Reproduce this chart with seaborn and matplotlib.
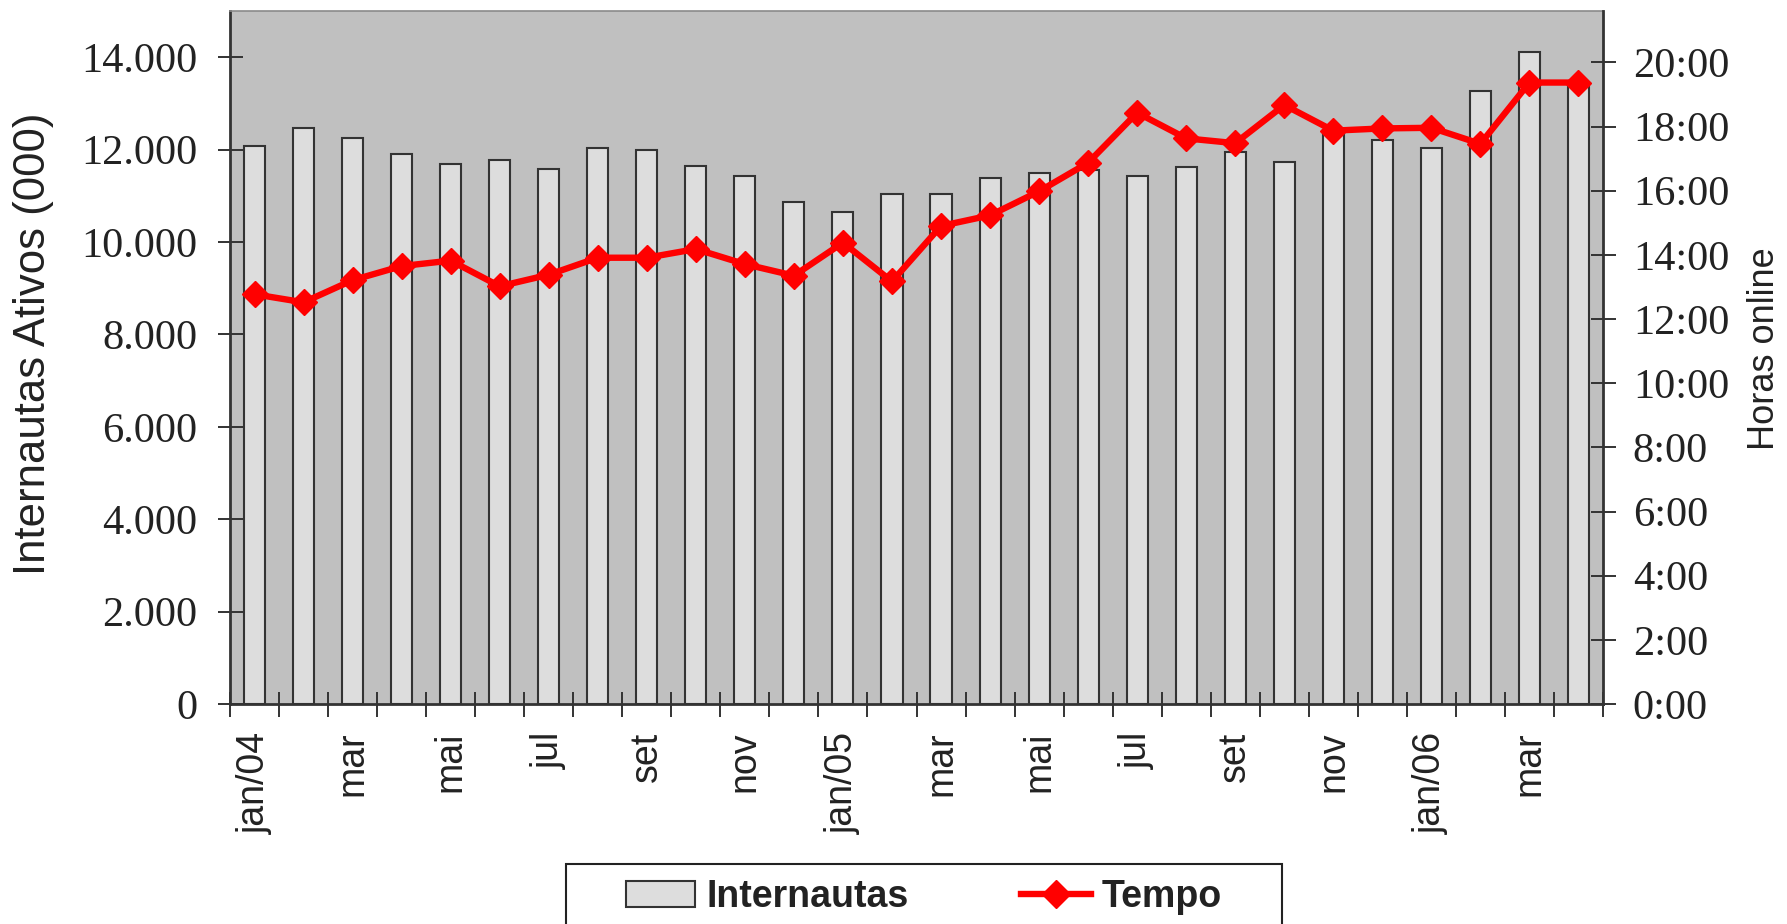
import numpy as np
import pandas as pd
import matplotlib
matplotlib.use("Agg")
import matplotlib.pyplot as plt
from matplotlib import font_manager as fm
from matplotlib.patches import Patch, Rectangle
from matplotlib.lines import Line2D
from matplotlib.ticker import FuncFormatter, MultipleLocator
import seaborn as sns

# ---------------- data ----------------
months = ["jan/04", "fev/04", "mar/04", "abr/04", "mai/04", "jun/04", "jul/04",
          "ago/04", "set/04", "out/04", "nov/04", "dez/04",
          "jan/05", "fev/05", "mar/05", "abr/05", "mai/05", "jun/05", "jul/05",
          "ago/05", "set/05", "out/05", "nov/05", "dez/05",
          "jan/06", "fev/06", "mar/06", "abr/06"]
tick_labels = ["jan/04", "mar", "mai", "jul", "set", "nov",
               "jan/05", "mar", "mai", "jul", "set", "nov",
               "jan/06", "mar"]
internautas = [12080, 12470, 12260, 11900, 11690, 11770, 11590, 12040, 12000,
               11640, 11430, 10870, 10650, 11040, 11040, 11380, 11500, 11550,
               11420, 11630, 11950, 11730, 12420, 12210, 12040, 13260, 14120,
               13400]
tempo_horas = [12.77, 12.52, 13.21, 13.65, 13.82, 13.02, 13.38, 13.91, 13.91,
               14.18, 13.71, 13.35, 14.38, 13.17, 14.90, 15.23, 15.98, 16.87,
               18.43, 17.63, 17.48, 18.67, 17.87, 17.94, 17.96, 17.46, 19.37,
               19.37]

df = pd.DataFrame({"idx": np.arange(len(months)), "mes": months,
                   "internautas": internautas, "tempo": tempo_horas})

# ---------------- fonts ----------------
names = {f.name for f in fm.fontManager.ttflist}
SANS = "Liberation Sans" if "Liberation Sans" in names else "DejaVu Sans"
SERIF = "Liberation Serif" if "Liberation Serif" in names else "DejaVu Serif"
if "Liberation Sans Narrow" in names:
    NARROW, narrow_size = "Liberation Sans Narrow", 32
elif "DejaVu Sans Condensed" in names:
    NARROW, narrow_size = "DejaVu Sans Condensed", 27
else:
    NARROW, narrow_size = SANS, 26

TXT = "#222222"
DARK = "#333333"

fig = plt.figure(figsize=(17.87, 9.24), dpi=100)
ax = fig.add_axes([230 / 1787, 1 - 704 / 924, (1603 - 230) / 1787, (704 - 11) / 924])
ax.set_facecolor("#C0C0C0")

sns.barplot(data=df, x="idx", y="internautas", ax=ax, color="#DDDDDD",
            edgecolor=DARK, linewidth=1.5, width=0.43, saturation=1)
for p in ax.patches:
    p.set_facecolor("#DDDDDD")

ax.set_xlim(-0.5, len(months) - 0.5)
ax.set_ylim(0, 15000)
ax.yaxis.set_major_locator(MultipleLocator(2000))
ax.yaxis.set_major_formatter(FuncFormatter(lambda v, p: f"{int(v):,}".replace(",", ".")))

# x ticks: marks at category boundaries, labels every second month
ax.set_xticks(np.arange(-0.5, len(months), 1.0))
ax.set_xticklabels([])
ax.set_xticks(np.arange(0, len(months), 2), minor=True)
ax.set_xticklabels(tick_labels, minor=True, rotation=90, family=SANS,
                   fontsize=27, color=TXT)
ax.tick_params(axis="x", which="major", direction="inout", length=18, width=1.4,
               color=DARK)
ax.tick_params(axis="x", which="minor", length=0, pad=20)
ax.tick_params(axis="y", direction="inout", length=18, width=1.4, color=DARK,
               pad=14.5, labelsize=30.5, labelcolor=TXT)
for lab in ax.get_yticklabels():
    lab.set_family(SERIF)

ax.set_xlabel("")
ax.set_ylabel("Internautas Ativos (000)", family=SANS, fontsize=31.5, color=TXT,
              va="center")
ax.yaxis.set_label_coords((33 - 230) / 1373, (704 - 344) / 693)

for s in ["left", "bottom"]:
    ax.spines[s].set_color(DARK)
    ax.spines[s].set_linewidth(2)
ax.spines["top"].set_color("#8a8a8a")
ax.spines["top"].set_linewidth(1.2)
ax.spines["right"].set_visible(False)

# ---------------- line on secondary axis ----------------
ax2 = ax.twinx()
sns.lineplot(data=df, x="idx", y="tempo", ax=ax2, color="#FF0000", linewidth=4.6,
             marker="D", markersize=13.5, markeredgecolor="#FF0000",
             markeredgewidth=1, zorder=5)
ax2.set_xlim(-0.5, len(months) - 0.5)
ax2.set_ylim(0, 21.6)
ax2.yaxis.set_major_locator(MultipleLocator(2))
ax2.yaxis.set_major_formatter(FuncFormatter(lambda v, p: f"{int(round(v))}:00"))
ax2.tick_params(axis="y", direction="inout", length=18, width=1.4, color=DARK,
                pad=12.5, labelsize=30.5, labelcolor=TXT)
for lab in ax2.get_yticklabels():
    lab.set_family(SERIF)
ax2.set_xlabel("")
ax2.set_ylabel("Horas online", family=NARROW, fontsize=narrow_size, color=TXT,
               va="center", rotation=90)
ax2.yaxis.set_label_coords((1764 - 230) / 1373, (704 - 349) / 693)
for s in ["left", "bottom", "top"]:
    ax2.spines[s].set_visible(False)
ax2.spines["right"].set_color(DARK)
ax2.spines["right"].set_linewidth(2)

# ---------------- legend ----------------
fig.add_artist(Rectangle((566 / 1787, -0.05), 716 / 1787, 0.05 + 1 - 864 / 924,
                         transform=fig.transFigure, facecolor="white",
                         edgecolor="#222222", linewidth=1.5, zorder=1))
handles = [Patch(facecolor="#DDDDDD", edgecolor=DARK, linewidth=1.5),
           Line2D([], [], color="#FF0000", linewidth=4.6, marker="D",
                  markersize=14, markeredgecolor="#FF0000")]
leg = fig.legend(handles, ["Internautas", "Tempo"], loc="center",
                 bbox_to_anchor=(924 / 1787, 1 - 897 / 924), ncol=2,
                 frameon=False, prop={"family": SANS, "weight": "bold", "size": 27},
                 handlelength=1.85, handleheight=0.67, handletextpad=0.3,
                 columnspacing=3.0)
for t in leg.get_texts():
    t.set_color(TXT)
leg.set_zorder(3)

fig.savefig("out.png", dpi=100)
